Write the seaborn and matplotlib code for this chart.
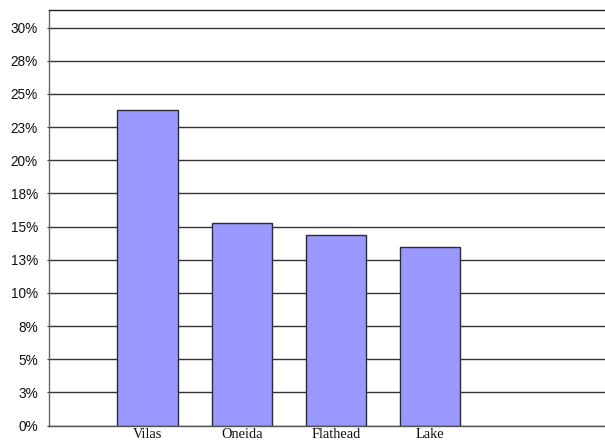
import matplotlib
matplotlib.use("Agg")
import matplotlib.pyplot as plt
import seaborn as sns
import pandas as pd

# County shares (percent)
counties = ["Vilas", "Oneida", "Flathead", "Lake"]
shares = [23.8, 15.3, 14.4, 13.45]

# Y-axis ticks and their (rounded) labels
y_ticks = [0, 2.5, 5, 7.5, 10, 12.5, 15, 17.5, 20, 22.5, 25, 27.5, 30]
y_labels = ["0%", "3%", "5%", "8%", "10%", "13%", "15%", "18%", "20%",
            "23%", "25%", "28%", "30%"]

sns.set_style("white")
plt.rcParams["font.family"] = ["Liberation Sans", "DejaVu Sans"]

df = pd.DataFrame({"county": counties, "share": shares})

fig = plt.figure(figsize=(6.05, 4.43), dpi=100)
ax = fig.add_axes([49 / 605, 1 - 425.5 / 443, 1 - 49 / 605, (425.5 - 10) / 443])

sns.barplot(data=df, x="county", y="share", order=counties,
            color="#9999FF", saturation=1, width=0.64,
            edgecolor="#2a2a3a", linewidth=1.0, ax=ax)

ax.set_xlim(-1.048, 4.862)
ax.set_ylim(0, 31.33)
ax.set_yticks(y_ticks)
ax.set_yticklabels(y_labels, fontsize=9.8, color="#111111")
ax.tick_params(axis="y", length=1.5, width=0.8, pad=6.5, color="#333333", left=True)
ax.tick_params(axis="x", length=0, pad=1.5)
for lbl in ax.get_xticklabels():
    lbl.set_fontfamily(["Liberation Serif", "DejaVu Serif"])
    lbl.set_fontsize(10.4)
    lbl.set_color("#111111")

ax.set_xlabel("")
ax.set_ylabel("")

ax.yaxis.grid(True, color="#333333", linewidth=1.0)
ax.set_axisbelow(True)

for side in ("left", "top", "bottom"):
    ax.spines[side].set_visible(True)
    ax.spines[side].set_color("#222222")
    ax.spines[side].set_linewidth(1.0)
ax.spines["right"].set_visible(False)
ax.spines["left"].set_color("#666666")
ax.spines["bottom"].set_color("#555555")

fig.savefig("out.png", dpi=100)
